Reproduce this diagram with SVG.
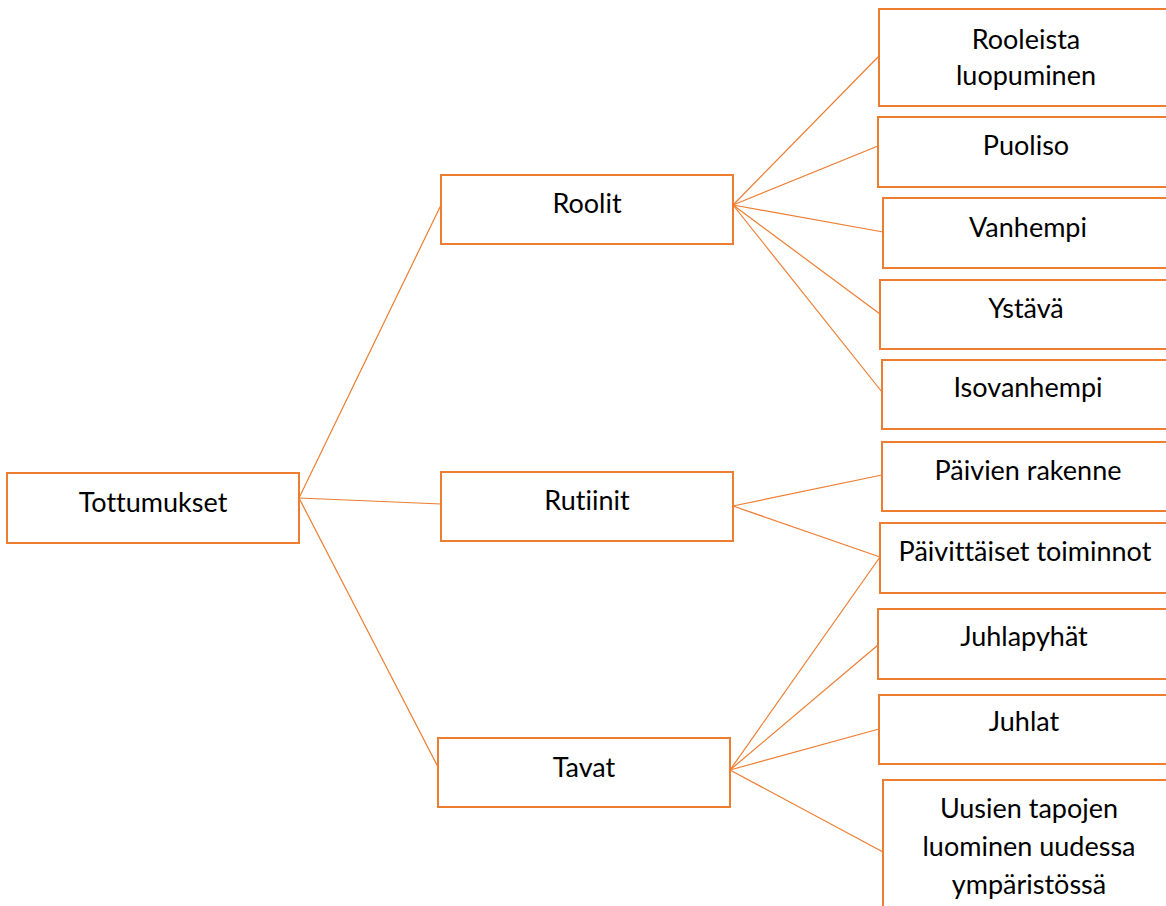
<svg xmlns="http://www.w3.org/2000/svg" width="1166" height="906" viewBox="0 0 1166 906">
<style>
.box{fill:#fff;stroke:#ED7D31;stroke-width:2}
.ln{stroke:#ED7D31;stroke-width:1.2;fill:none}
text{font-family:Lato,"Open Sans",sans-serif;font-size:27px;fill:#000;text-anchor:middle;font-variant-ligatures:none}
</style>
<rect width="1166" height="906" fill="#fff"/>
<g id="connectors">
<line class="ln" x1="299" y1="498" x2="441" y2="205"/>
<line class="ln" x1="299" y1="498" x2="441" y2="504"/>
<line class="ln" x1="299" y1="498" x2="438" y2="767"/>
<line class="ln" x1="733" y1="205" x2="879" y2="56"/>
<line class="ln" x1="733" y1="205" x2="878" y2="146"/>
<line class="ln" x1="733" y1="205" x2="883" y2="232"/>
<line class="ln" x1="733" y1="205" x2="880" y2="314"/>
<line class="ln" x1="733" y1="205" x2="882" y2="392"/>
<line class="ln" x1="733" y1="506" x2="882" y2="475"/>
<line class="ln" x1="733" y1="506" x2="880" y2="557"/>
<line class="ln" x1="730" y1="770" x2="880" y2="557"/>
<line class="ln" x1="730" y1="770" x2="878" y2="645"/>
<line class="ln" x1="730" y1="770" x2="879" y2="729"/>
<line class="ln" x1="730" y1="770" x2="883" y2="852"/>
</g>
<g id="tottumukset"><rect class="box" x="7" y="473" width="292" height="70"/><text x="153" y="512">Tottumukset</text></g>
<g id="roolit"><rect class="box" x="441" y="175" width="292" height="69"/><text x="587" y="213">Roolit</text></g>
<g id="rutiinit"><rect class="box" x="441" y="472" width="292" height="69"/><text x="587" y="510">Rutiinit</text></g>
<g id="tavat"><rect class="box" x="438" y="738" width="292" height="69"/><text x="584" y="777">Tavat</text></g>
<g id="rooleista"><rect class="box" x="879" y="9" width="300" height="97"/><text x="1026" y="49">Rooleista</text><text x="1026" y="85">luopuminen</text></g>
<g id="puoliso"><rect class="box" x="878" y="117" width="300" height="70"/><text x="1026" y="155">Puoliso</text></g>
<g id="vanhempi"><rect class="box" x="883" y="198" width="300" height="70"/><text x="1028" y="237">Vanhempi</text></g>
<g id="ystava"><rect class="box" x="880" y="280" width="300" height="69"/><text x="1026" y="318">Ystävä</text></g>
<g id="isovanhempi"><rect class="box" x="882" y="360" width="300" height="69"/><text x="1028" y="397">Isovanhempi</text></g>
<g id="paivien"><rect class="box" x="882" y="442" width="300" height="69"/><text x="1028" y="480">Päivien rakenne</text></g>
<g id="paivittaiset"><rect class="box" x="880" y="523" width="300" height="70"/><text x="1025" y="561">Päivittäiset toiminnot</text></g>
<g id="juhlapyhat"><rect class="box" x="878" y="609" width="300" height="70"/><text x="1024" y="646">Juhlapyhät</text></g>
<g id="juhlat"><rect class="box" x="879" y="695" width="300" height="69"/><text x="1024" y="731">Juhlat</text></g>
<g id="uusien"><rect class="box" x="883" y="780" width="300" height="140"/><text x="1029" y="818">Uusien tapojen</text><text x="1029" y="856">luominen uudessa</text><text x="1029" y="894">ympäristössä</text></g>
</svg>
